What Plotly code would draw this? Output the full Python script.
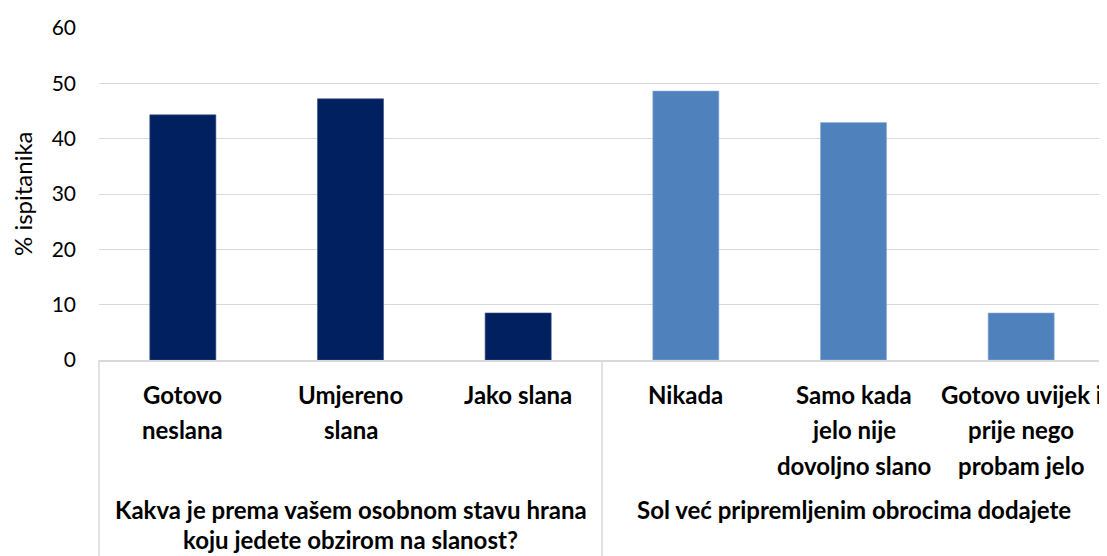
import plotly.graph_objects as go

# ---- data ----
categories = ["Gotovo neslana", "Umjereno slana", "Jako slana",
              "Nikada", "Samo kada jelo nije dovoljno slano",
              "Gotovo uvijek i prije nego probam jelo"]
category_lines = [["Gotovo", "neslana"], ["Umjereno", "slana"], ["Jako slana"],
                  ["Nikada"], ["Samo kada", "jelo nije", "dovoljno slano"],
                  ["Gotovo uvijek i", "prije nego", "probam jelo"]]
group_lines = [["Kakva je prema vašem osobnom stavu hrana", "koju jedete obzirom na slanost?"],
               ["Sol već pripremljenim obrocima dodajete"]]
group_sizes = [3, 3]
values_q1 = [44.3, 47.2, 8.5]
values_q2 = [48.6, 42.9, 8.5]
y_ticks = [0, 10, 20, 30, 40, 50, 60]
y_title = "% ispitanika"

# ---- styles ----
FONT = "Lato"
C1 = "#002060"
C2 = "#4F81BD"
GRID = "#d9d9d9"
FS_TICK = 21
FS_CAT = 24

fig = go.Figure()
fig.add_trace(go.Bar(x=categories[:3], y=values_q1,
                     marker=dict(color=C1, line=dict(color="#3a4f86", width=0.6)),
                     width=0.394, showlegend=False))
fig.add_trace(go.Bar(x=categories[3:], y=values_q2,
                     marker=dict(color=C2, line=dict(color="#8eaedb", width=0.6)),
                     width=0.394, showlegend=False))

annotations = []
# category labels (level 1)
for i, lines in enumerate(category_lines):
    for j, line in enumerate(lines):
        annotations.append(dict(x=i, xref="x", y=0, yref="paper", yanchor="middle",
                                yshift=-(34 + 35.5 * j), text="<b>%s</b>" % line, showarrow=False,
                                font=dict(family=FONT, size=FS_CAT, color="#000"),
                                xanchor="center"))
# group labels (level 2)
start = 0
for g, lines in enumerate(group_lines):
    center = start + (group_sizes[g] - 1) / 2
    for j, line in enumerate(lines):
        annotations.append(dict(x=center, xref="x", y=0, yref="paper", yanchor="middle",
                                yshift=-(149 + 30 * j), text="<b>%s</b>" % line, showarrow=False,
                                font=dict(family=FONT, size=FS_CAT, color="#000"),
                                xanchor="center"))
    start += group_sizes[g]
# y title
annotations.append(dict(x=0, xref="paper", y=0.5, yref="paper", xshift=-77, textangle=-90,
                        text=y_title, showarrow=False, xanchor="center", yanchor="middle",
                        font=dict(family=FONT, size=24, color="#000")))

shapes = []
# box lines of the category axis
for xp in [0, 0.5, 1]:
    shapes.append(dict(type="line", xref="paper", yref="paper", x0=xp, x1=xp, y0=0, y1=-0.62,
                       line=dict(color=GRID, width=1.5)))

# page body has an 8px margin: compensate so the plot lands where the reference has it
fig.update_layout(
    width=1099, height=548,
    margin=dict(l=91, r=2, t=20, b=196, autoexpand=False),
    plot_bgcolor="white", paper_bgcolor="white",
    barmode="overlay",
    annotations=annotations, shapes=shapes,
    xaxis=dict(type="category", range=[-0.5, 5.5], showticklabels=False, showgrid=False,
               showline=True, linecolor=GRID, linewidth=1.5, zeroline=False, ticks=""),
    yaxis=dict(range=[0, 60], tickvals=y_ticks, showgrid=True, gridcolor=GRID, gridwidth=1.3,
               zeroline=False, showline=False, ticks="", ticklabelstandoff=22,
               tickfont=dict(family=FONT, size=FS_TICK, color="#000")),
    font=dict(family=FONT),
)

fig.write_html("out.html")
